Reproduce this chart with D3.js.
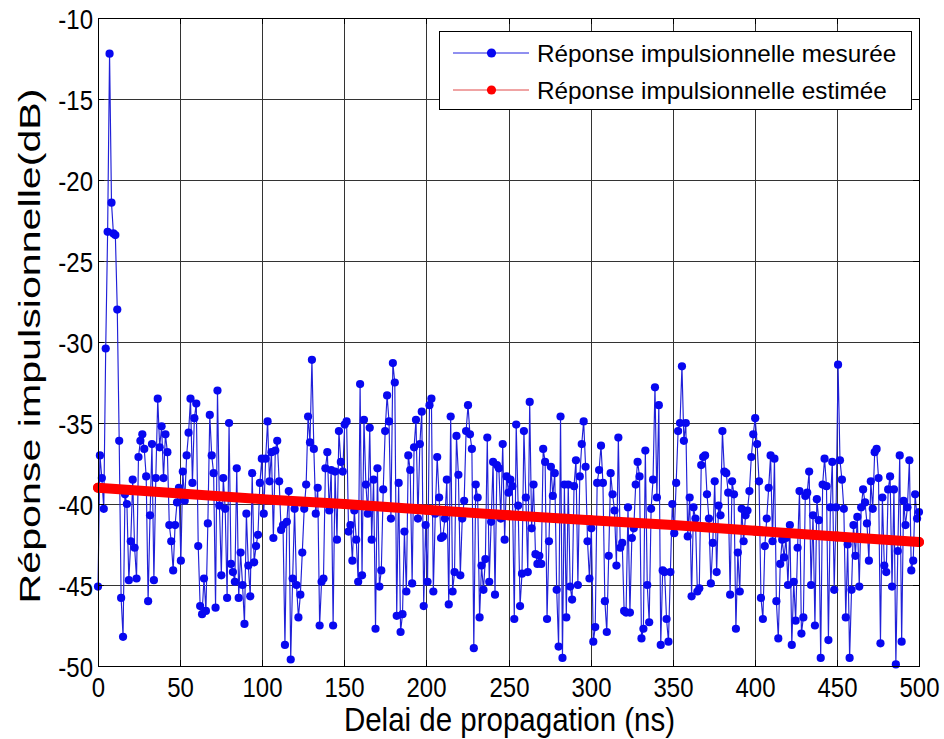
<!DOCTYPE html>
<html>
<head>
<meta charset="utf-8">
<script src="https://cdn.jsdelivr.net/npm/d3@7"></script>
<style>
  html, body { margin: 0; padding: 0; background: #fff; }
  svg { display: block; }
  text { font-family: "Liberation Sans", Arial, Helvetica, sans-serif; fill: #000; }
</style>
</head>
<body>
<svg id="chart" width="944" height="739"></svg>
<script>
// Axis ticks
const xTicks = [0, 50, 100, 150, 200, 250, 300, 350, 400, 450, 500];
const yTicks = [-50, -45, -40, -35, -30, -25, -20, -15, -10];

// Measured impulse response (dB), evenly sampled over 0–500 ns
const measured = [
  -45.1, -37.0, -38.4, -40.3, -30.4, -23.2, -12.2, -21.4, -23.3, -23.4,
  -28.0, -36.1, -45.8, -48.2, -39.4, -40.0, -44.7, -42.3, -38.5, -42.7,
  -44.6, -37.1, -36.1, -35.7, -36.6, -38.3, -46.0, -40.7, -36.3, -44.7,
  -38.4, -33.5, -36.5, -35.2, -38.4, -35.7, -36.8, -41.3, -42.3, -44.1,
  -41.3, -39.9, -39.0, -43.5, -38.0, -39.8, -37.0, -35.6, -33.5, -38.7,
  -34.7, -33.8, -42.6, -46.3, -46.8, -44.6, -46.6, -41.2, -34.5, -37.0,
  -38.1, -46.4, -33.0, -40.1, -44.4, -38.4, -40.3, -45.8, -35.0, -43.7,
  -44.2, -44.8, -37.8, -45.8, -43.0, -45.0, -47.4, -40.6, -43.8, -45.7,
  -38.1, -43.6, -42.6, -41.9, -38.7, -37.2,
  -40.6, -37.2, -34.9, -38.6, -36.8, -42.1, -36.7, -36.1, -38.6, -41.6,
  -41.3, -48.7, -41.1, -39.2, -49.6, -44.6, -40.3, -45.0, -47.0, -45.6,
  -43.0, -40.3, -38.8, -34.6, -36.2, -31.1, -36.6, -40.6, -39.0, -47.5,
  -44.8, -44.6, -37.8, -36.8, -40.4, -37.9, -47.5, -38.0, -42.2, -35.5,
  -37.4, -38.0, -35.1, -34.9, -41.7, -41.3, -43.5, -40.4, -42.2, -44.8,
  -32.6, -44.4, -34.8, -38.8, -40.6, -35.3, -42.2, -38.5, -47.7, -37.8,
  -45.1, -44.1, -39.1, -35.5, -33.3, -34.9, -40.9, -31.3, -32.5, -46.9,
  -38.7, -47.9, -46.8, -41.7, -45.4, -37.0, -37.9, -44.9, -36.5, -34.8,
  -40.9, -36.3, -34.3, -46.3, -41.3, -44.8, -33.9, -33.5,
  -45.4, -40.6, -37.1, -39.6, -42.1, -42.0, -40.9, -38.5, -46.2, -34.6,
  -45.4, -44.2, -35.8, -38.2, -44.4, -40.9, -39.8, -35.5, -33.9, -35.7,
  -36.6, -48.9, -38.8, -39.6, -47.0, -43.8, -45.3, -43.4, -35.9, -44.8,
  -41.1, -37.4, -45.6, -37.6, -37.8, -40.9, -36.3, -42.2, -38.3, -39.3,
  -38.5, -38.9, -47.1, -35.1, -40.1, -46.3, -44.3, -35.5, -39.6, -44.2,
  -33.7, -41.5, -38.8, -43.1, -43.7, -43.2, -43.7, -36.6, -37.4, -47.1,
  -42.3, -37.7, -39.5, -38.1, -45.3, -48.8, -34.6, -49.5, -38.8, -47.0,
  -38.8, -45.1, -45.9, -38.9, -37.3, -45.0, -38.3, -36.3, -34.9, -37.7,
  -42.3, -44.6, -41.5, -48.5, -47.6, -38.7, -37.9, -36.4,
  -38.7, -46.0, -47.9, -43.2, -38.1, -39.4, -40.4, -43.8,
  -35.9, -42.7, -42.4, -46.6, -46.7, -40.2, -46.7, -42.1, -41.5, -38.8,
  -37.4, -38.3, -48.3, -47.7, -36.7, -45.0, -47.3, -40.3, -38.5, -32.8,
  -39.6, -33.9, -48.7, -44.1, -44.2, -47.1, -48.5, -44.2, -40.0, -41.8,
  -38.7, -35.5, -35.0, -31.5, -36.1, -35.0, -42.0, -39.6, -45.7, -40.2,
  -40.9, -45.4, -45.2, -37.6, -37.1, -37.0, -39.4, -40.9, -44.9, -42.4,
  -38.6, -44.2, -40.1, -40.7, -35.5, -38.0, -38.1, -39.3, -45.6, -38.6,
  -39.4, -47.7, -43.0, -45.4, -40.3, -42.3, -40.7, -40.4, -39.2, -37.1,
  -35.7, -34.7, -36.3, -38.6, -45.8, -47.1, -42.6,
  -40.9, -39.0, -37.0, -42.3, -37.2, -46.0, -48.3, -43.7, -42.2, -43.3,
  -42.1, -45.0, -41.3, -48.7, -44.8, -47.2, -42.7, -39.2, -48.0, -47.0,
  -39.5, -39.3, -38.0, -45.0, -40.7, -47.5, -39.7, -41.0, -49.5, -38.8,
  -37.2, -38.9, -48.4, -40.2, -37.4, -45.3, -40.2, -31.4, -37.3, -38.5,
  -40.3, -47.0, -42.5, -49.5, -45.3, -41.3, -43.2, -40.8, -45.1, -40.2,
  -39.1, -39.9, -41.2, -43.5, -38.6, -40.3, -36.8, -36.6, -38.4, -48.6,
  -39.6, -43.8, -44.2, -39.1, -38.3, -45.1, -39.1, -49.9, -42.9, -37.0,
  -48.5, -39.8, -41.3, -40.2, -37.3, -44.1, -43.5, -39.4, -40.9, -40.5
];
const delaySpan = 500;

// Estimated (fitted) impulse response, dB
const estimateDelays = [0, 50, 100, 150, 200, 250, 300, 350, 400, 450, 500];
const estimateValues = [-39.0, -39.35, -39.7, -40.0, -40.35, -40.7, -41.0, -41.3, -41.65, -42.0, -42.35];

const seriesNames = ["Réponse impulsionnelle mesurée", "Réponse impulsionnelle estimée"];
const xTitle = "Delai de propagation (ns)";
const yTitle = "Réponse impulsionnelle(dB)";

const svg = d3.select("#chart");
const plotL = 98, plotR = 919, plotT = 18, plotB = 666;

const x = d3.scaleLinear().domain([xTicks[0], xTicks[xTicks.length - 1]]).range([plotL, plotR]);
const y = d3.scaleLinear().domain([yTicks[0], yTicks[yTicks.length - 1]]).range([plotB, plotT]);
const xr = x.copy().interpolate(d3.interpolateRound);
const yr = y.copy().interpolate(d3.interpolateRound);

const delays = measured.map((_, i) => i * delaySpan / (measured.length - 1));
const measuredPts = measured.map((v, i) => [delays[i], v]);
const estimatePts = estimateValues.map((v, i) => [estimateDelays[i], v]);

// white plot background
svg.append("rect").attr("x", plotL).attr("y", plotT)
  .attr("width", plotR - plotL).attr("height", plotB - plotT).attr("fill", "#fff");

// grid
svg.append("g").attr("transform", `translate(0,${plotB})`)
  .call(d3.axisBottom(xr).tickValues(xTicks).tickSize(-(plotB - plotT)).tickFormat(""))
  .call(g => g.select(".domain").remove())
  .call(g => g.selectAll("line").attr("stroke", "#333").attr("stroke-width", 1));
svg.append("g").attr("transform", `translate(${plotL},0)`)
  .call(d3.axisLeft(yr).tickValues(yTicks).tickSize(-(plotR - plotL)).tickFormat(""))
  .call(g => g.select(".domain").remove())
  .call(g => g.selectAll("line").attr("stroke", "#333").attr("stroke-width", 1));

// measured series
const line = d3.line().x(d => x(d[0])).y(d => y(d[1]));
svg.append("path").datum(measuredPts)
  .attr("fill", "none").attr("stroke", "#2020d8").attr("stroke-width", 1.15)
  .attr("stroke-linejoin", "round").attr("d", line);
svg.append("g").selectAll("circle").data(measuredPts).join("circle")
  .attr("cx", d => x(d[0])).attr("cy", d => y(d[1])).attr("r", 4.1)
  .attr("fill", "#0808f0");

// estimated series
svg.append("path").datum(estimatePts)
  .attr("fill", "none").attr("stroke", "#ff0000").attr("stroke-width", 10)
  .attr("stroke-linecap", "round").attr("d", line);
svg.append("g").selectAll("circle").data(estimatePts).join("circle")
  .attr("cx", d => x(d[0])).attr("cy", d => y(d[1])).attr("r", 5)
  .attr("fill", "#ff0000");

// inward tick marks on all four sides
const tickLen = 6;
const styleTicks = g => {
  g.select(".domain").remove();
  g.selectAll("line").attr("stroke", "#000").attr("stroke-width", 1);
};
svg.append("g").attr("transform", `translate(0,${plotB})`)
  .call(d3.axisBottom(xr).tickValues(xTicks).tickSize(-tickLen).tickFormat("")).call(styleTicks);
svg.append("g").attr("transform", `translate(0,${plotT})`)
  .call(d3.axisTop(xr).tickValues(xTicks).tickSize(-tickLen).tickFormat("")).call(styleTicks);
svg.append("g").attr("transform", `translate(${plotL},0)`)
  .call(d3.axisLeft(yr).tickValues(yTicks).tickSize(-tickLen).tickFormat("")).call(styleTicks);
svg.append("g").attr("transform", `translate(${plotR},0)`)
  .call(d3.axisRight(yr).tickValues(yTicks).tickSize(-tickLen).tickFormat("")).call(styleTicks);

// axes box
svg.append("rect").attr("x", plotL + 0.5).attr("y", plotT + 0.5)
  .attr("width", plotR - plotL).attr("height", plotB - plotT)
  .attr("fill", "none").attr("stroke", "#000").attr("stroke-width", 1);

// tick labels
const tickFont = 24, tickStretch = 1.18;
svg.append("g").attr("transform", `translate(0,${plotB})`)
  .call(d3.axisBottom(xr).tickValues(xTicks).tickSize(0).tickFormat(d => String(d)))
  .call(g => g.select(".domain").remove())
  .call(g => g.selectAll("text")
    .attr("y", null).attr("dy", null)
    .attr("font-size", tickFont).attr("text-anchor", "middle").attr("fill", "#000")
    .attr("font-family", "Liberation Sans, Arial, sans-serif")
    .attr("transform", `translate(0,31) scale(1,${tickStretch})`));
svg.append("g").attr("transform", `translate(${plotL},0)`)
  .call(d3.axisLeft(yr).tickValues(yTicks).tickSize(0).tickFormat(d => String(d)))
  .call(g => g.select(".domain").remove())
  .call(g => g.selectAll("text")
    .attr("x", null).attr("dy", null)
    .attr("font-size", tickFont).attr("text-anchor", "end").attr("fill", "#000")
    .attr("font-family", "Liberation Sans, Arial, sans-serif")
    .attr("transform", `translate(-5,10) scale(1,${tickStretch})`));

// axis titles
svg.append("text")
  .attr("transform", `translate(${(plotL + plotR) / 2 + 1},731) scale(1,1.12)`)
  .attr("text-anchor", "middle").attr("font-size", 29.5)
  .text(xTitle);
svg.append("text")
  .attr("transform", `translate(40,${(plotT + plotB) / 2 + 4}) rotate(-90)`)
  .attr("text-anchor", "middle").attr("font-size", 29)
  .attr("textLength", 515).attr("lengthAdjust", "spacingAndGlyphs")
  .text(yTitle);

// legend
const legend = svg.append("g");
legend.append("rect").attr("x", 439.5).attr("y", 31.5).attr("width", 472).attr("height", 78)
  .attr("fill", "#fff").attr("stroke", "#000").attr("stroke-width", 1);
const legendColors = [{ line: "#2020e0", dot: "#0808f0" }, { line: "#e04848", dot: "#ff0000" }];
const rowY = [53, 90];
seriesNames.forEach((name, i) => {
  legend.append("line").attr("x1", 453).attr("x2", 529).attr("y1", rowY[i]).attr("y2", rowY[i])
    .attr("stroke", legendColors[i].line).attr("stroke-width", 1);
  legend.append("circle").attr("cx", 491.5).attr("cy", rowY[i]).attr("r", 4.6)
    .attr("fill", legendColors[i].dot);
  legend.append("text").attr("x", 537).attr("y", rowY[i] + 8.5)
    .attr("font-size", 24.3).text(name);
});
</script>
</body>
</html>
